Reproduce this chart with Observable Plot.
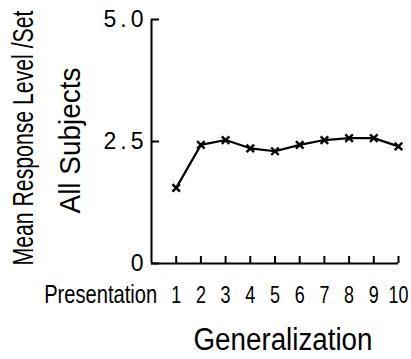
<!DOCTYPE html>
<html>
<head>
<meta charset="utf-8">
<script src="https://cdn.jsdelivr.net/npm/d3@7"></script>
<script src="https://cdn.jsdelivr.net/npm/@observablehq/plot@0.6"></script>
<style>
  html, body { margin: 0; padding: 0; background: #fff; }
  #chart svg { display: block; }
</style>
</head>
<body>
<div id="chart"></div>
<script>
const presentations = [1, 2, 3, 4, 5, 6, 7, 8, 9, 10];
const meanResponse = [1.55, 2.43, 2.53, 2.36, 2.30, 2.43, 2.53, 2.57, 2.57, 2.40];
const yTicks = [0, 2.5, 5.0];
const yTickLabels = ["0", "2.5", "5.0"];
const xLabel = "Generalization";
const yLabel1 = "Mean Response Level /Set";
const yLabel2 = "All Subjects";
const firstTickPrefix = "Presentation";

const data = presentations.map((p, i) => ({ p, v: meanResponse[i] }));
const font = "'Liberation Sans', Arial, sans-serif";

const chart = Plot.plot({
  width: 411,
  height: 359,
  marginLeft: 151,
  marginRight: 13,
  marginTop: 19,
  marginBottom: 96,
  style: { fontFamily: font, color: "#000", background: "#fff" },
  x: { domain: [0, 10] },
  y: { domain: [0, 5] },
  marks: [
    Plot.ruleX([0], { stroke: "#000", strokeWidth: 2 }),
    Plot.ruleY([0], { stroke: "#000", strokeWidth: 2 }),
    Plot.axisY({
      ticks: yTicks,
      tickFormat: (d) => yTickLabels[yTicks.indexOf(d)],
      tickSize: -8,
      tickPadding: 12,
      strokeWidth: 2,
      fontSize: 23,
      label: null,
      className: "yax"
    }),
    Plot.axisX({
      ticks: presentations,
      tickFormat: (d) => String(d),
      tickSize: -7,
      tickPadding: 29,
      strokeWidth: 2,
      fontSize: 24,
      label: null,
      className: "xax"
    }),
    Plot.text([firstTickPrefix], {
      x: presentations[0],
      y: 0,
      dx: -19,
      dy: 31,
      textAnchor: "end",
      lineAnchor: "middle",
      fontSize: 25,
      fill: "#000",
      className: "prefix"
    }),
    Plot.text([xLabel], {
      frameAnchor: "bottom",
      textAnchor: "middle",
      lineAnchor: "middle",
      dy: 77,
      dx: 8,
      fontSize: 31,
      fill: "#000",
      className: "xlab"
    }),
    Plot.text([yLabel1], {
      frameAnchor: "left",
      textAnchor: "middle",
      lineAnchor: "middle",
      dx: -128,
      dy: -3.5,
      rotate: -90,
      fontSize: 29,
      fill: "#000",
      className: "ylab1"
    }),
    Plot.text([yLabel2], {
      frameAnchor: "left",
      textAnchor: "middle",
      lineAnchor: "middle",
      dx: -81,
      dy: -1,
      rotate: -90,
      fontSize: 30,
      fill: "#000",
      className: "ylab2"
    }),
    Plot.line(data, { x: "p", y: "v", stroke: "#000", strokeWidth: 2.2 }),
    Plot.dot(data, { x: "p", y: "v", symbol: "times", r: 3.5, stroke: "#000", strokeWidth: 2.4, fill: "#fff" })
  ]
});

const svg = d3.select(chart);
function squeeze(cls, len) {
  svg.selectAll("." + cls + " text")
    .attr("textLength", len)
    .attr("lengthAdjust", "spacingAndGlyphs");
}
squeeze("ylab1", 255);
squeeze("ylab2", 146);
squeeze("xlab", 179);
squeeze("prefix", 113);
svg.selectAll(".yax text").style("letter-spacing", "4px");
svg.selectAll(".xax text").each(function () {
  const t = d3.select(this);
  const s = t.text();
  t.attr("textLength", s.length * 10).attr("lengthAdjust", "spacingAndGlyphs");
});
document.getElementById("chart").appendChild(chart);
</script>
</body>
</html>
